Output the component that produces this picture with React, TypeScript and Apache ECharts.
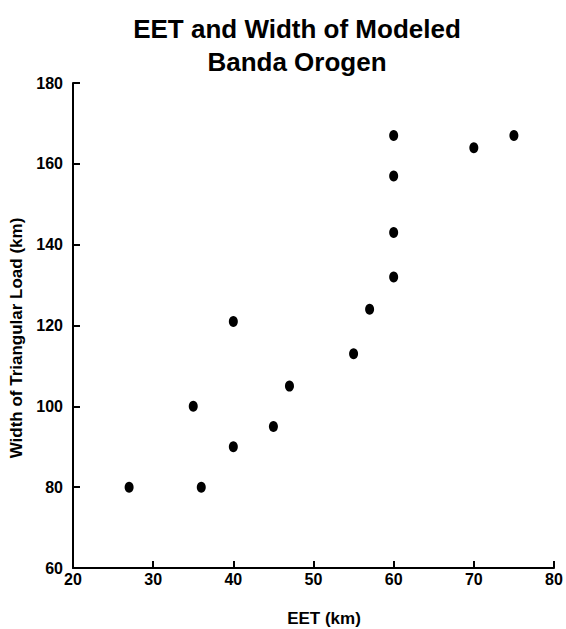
import React, { useEffect, useRef } from "react";
import * as echarts from "echarts";

const titleText = "EET and Width of Modeled\nBanda Orogen";
const xName = "EET (km)";
const yName = "Width of Triangular Load (km)";
const eetValues = [27, 36, 40, 35, 45, 47, 40, 55, 57, 60, 60, 60, 60, 70, 75];
const widthValues = [80, 80, 90, 100, 95, 105, 121, 113, 124, 132, 143, 157, 167, 164, 167];

const FONT = "'Liberation Sans', Arial, Helvetica, sans-serif";

export default function App() {
  const ref = useRef<HTMLDivElement>(null);
  useEffect(() => {
    if (!ref.current) return;
    const chart = echarts.init(ref.current, undefined, { renderer: "svg" });
    const data = eetValues.map((x, i) => [x, widthValues[i]]);
    chart.setOption({
      animation: false,
      backgroundColor: "#ffffff",
      title: {
        text: titleText,
        left: 292,
        top: 7,
        textAlign: "center",
        textStyle: {
          fontFamily: FONT,
          fontWeight: "bold",
          fontSize: 26,
          lineHeight: 33,
          color: "#000",
        },
      },
      grid: { left: 73, right: 12, top: 83, bottom: 61, containLabel: false, outerBoundsMode: "none" },
      xAxis: {
        type: "value",
        min: 20,
        max: 80,
        interval: 10,
        name: xName,
        nameLocation: "middle",
        nameGap: 42,
        nameTextStyle: {
          fontFamily: FONT,
          fontWeight: "bold",
          fontSize: 17,
          lineHeight: 17,
          color: "#000",
          padding: [0, 0, 0, 21],
        },
        axisLine: { show: true, lineStyle: { color: "#000", width: 2 } },
        axisTick: { show: true, inside: true, length: 7, lineStyle: { color: "#000", width: 2 } },
        axisLabel: {
          fontFamily: FONT,
          fontWeight: "bold",
          fontSize: 16,
          color: "#000",
          margin: 3,
        },
        splitLine: { show: false },
      },
      yAxis: {
        type: "value",
        min: 60,
        max: 180,
        interval: 20,
        name: yName,
        nameLocation: "middle",
        nameRotate: 90,
        nameGap: 46,
        nameTextStyle: {
          fontFamily: FONT,
          fontWeight: "bold",
          fontSize: 17,
          color: "#000",
          padding: [0, 25, 0, 0],
        },
        axisLine: { show: true, lineStyle: { color: "#000", width: 2 } },
        axisTick: { show: true, inside: true, length: 7, lineStyle: { color: "#000", width: 2 } },
        axisLabel: {
          fontFamily: FONT,
          fontWeight: "bold",
          fontSize: 16,
          color: "#000",
          margin: 10,
        },
        splitLine: { show: false },
      },
      series: [
        {
          type: "scatter",
          data,
          symbol: "circle",
          symbolSize: [9, 11],
          itemStyle: { color: "#000", opacity: 1 },
        },
      ],
    });
    return () => chart.dispose();
  }, []);
  return <div ref={ref} style={{ width: 566, height: 629, position: "absolute", left: 0, top: 0 }} />;
}
